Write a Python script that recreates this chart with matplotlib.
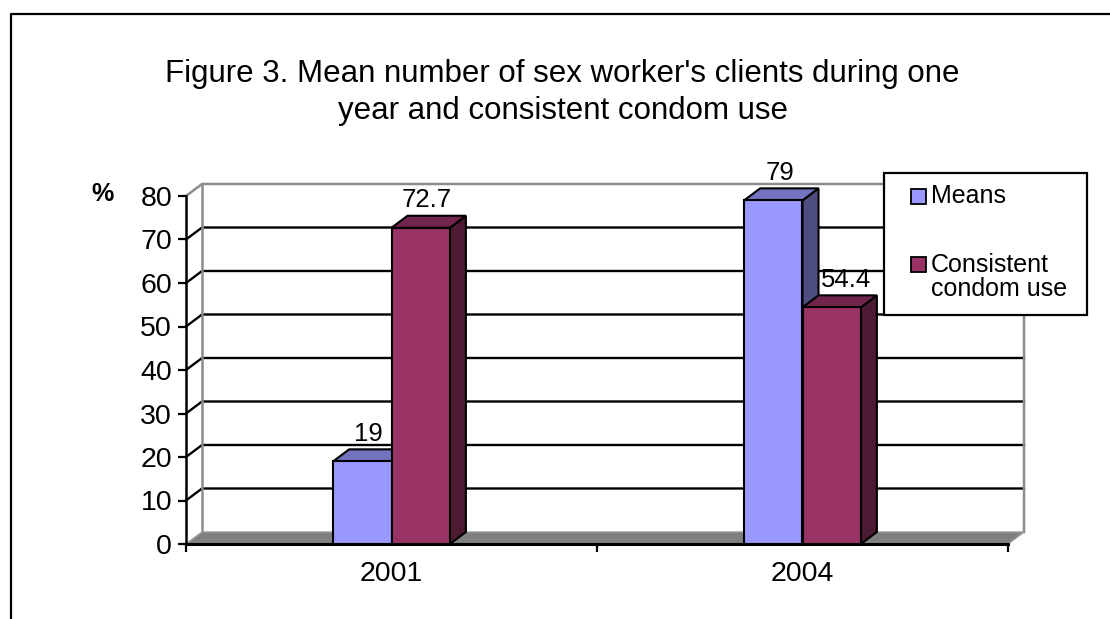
import matplotlib.pyplot as plt
import matplotlib.transforms as mtransforms
from matplotlib.patches import Polygon, Rectangle

plt.rcParams['font.family'] = ['Liberation Sans', 'DejaVu Sans']

years = ['2001', '2004']
means = [19, 79]
condom_use = [72.7, 54.4]
value_labels_means = ['19', '79']
value_labels_condom = ['72.7', '54.4']
yticks = list(range(0, 90, 10))

series = [
    ('Means', means, value_labels_means, ('#9999FF', '#7373BF', '#4D4D80')),
    ('Consistent\ncondom use', condom_use, value_labels_condom, ('#993366', '#73264D', '#4D1A33')),
]
# extra sideways nudge (points) for labels that would sit on a neighbouring bar
label_nudge = {(1, 1): 6}

W, H = 1110, 619
fig = plt.figure(figsize=(W / 100, H / 100), dpi=100)
# pixel coords measured from the top-left corner of the figure
px = mtransforms.Affine2D().scale(1 / W, -1 / H).translate(0, 1) + fig.transFigure

ax = fig.add_axes([186 / W, (H - 544) / H, 822 / W, 348 / H])
ax.set_xlim(-0.5, 1.5)
ax.set_ylim(0, 80)
ax.patch.set_visible(False)

# depth of the 3d box in data units
DX = 0.039
DY = 2.76
bar_w = 0.142

# back wall: gridlines, side-wall diagonals and grey edges
x0, x1 = -0.5, 1.5
for v in yticks[1:-1]:
    ax.plot([x0, x0 + DX, x1 + DX], [v, v + DY, v + DY], color='black', lw=1.7,
            clip_on=False, zorder=1, solid_joinstyle='miter')
ax.plot([x0, x0 + DX, x1 + DX, x1 + DX], [80, 80 + DY, 80 + DY, DY],
        color='#8c8c8c', lw=1.8, clip_on=False, zorder=1)
ax.plot([x0 + DX, x0 + DX], [DY, 80 + DY], color='#8c8c8c', lw=1.8,
        clip_on=False, zorder=1)

# floor
floor = Polygon([(x0, 0), (x1, 0), (x1 + DX, DY), (x0 + DX, DY)], closed=True,
                facecolor='#808080', edgecolor='#999999', lw=1.0,
                clip_on=False, zorder=1.5)
ax.add_patch(floor)

# 3d bars
for i, year in enumerate(years):
    for j, (name, vals, labels, (front, top, side)) in enumerate(series):
        left = i - bar_w + j * bar_w
        v = vals[i]
        kw = dict(edgecolor='black', lw=1.5, clip_on=False, joinstyle='miter')
        ax.add_patch(Polygon([(left + bar_w, 0), (left + bar_w + DX, DY),
                              (left + bar_w + DX, v + DY), (left + bar_w, v)],
                             facecolor=side, zorder=3 + j, **kw))
        ax.add_patch(Polygon([(left, v), (left + bar_w, v),
                              (left + bar_w + DX, v + DY), (left + DX, v + DY)],
                             facecolor=top, zorder=3 + j, **kw))
        ax.add_patch(Rectangle((left, 0), bar_w, v, facecolor=front,
                               zorder=3 + j, **kw))
        ax.annotate(labels[i], (left + bar_w / 2 + DX * 0.4, v + DY),
                    xytext=(label_nudge.get((i, j), 0), 11),
                    textcoords='offset points', annotation_clip=False,
                    ha='center', va='center', fontsize=18.5, zorder=6)

# axes
for s in ['top', 'right']:
    ax.spines[s].set_visible(False)
ax.spines['left'].set_linewidth(1.8)
ax.spines['bottom'].set_linewidth(2.2)
ax.spines['left'].set_zorder(2.5)
ax.spines['bottom'].set_zorder(2.5)
ax.set_yticks(yticks)
ax.tick_params(axis='y', direction='out', length=6, width=1.6, pad=4, labelsize=20.5)
ax.set_xticks([-0.5, 0.5, 1.5])
ax.set_xticklabels([])
ax.set_xticks([0, 1], minor=True)
ax.set_xticklabels(years, minor=True)
ax.tick_params(axis='x', which='major', direction='out', length=6, width=1.6)
ax.tick_params(axis='x', which='minor', length=0, pad=12, labelsize=20.5)

# outer chart frame
fig.add_artist(plt.Line2D([11, 11, W + 5], [H + 5, 14, 14], transform=px,
                          color='black', lw=1.6))

fig.text(562, 82, "Figure 3. Mean number of sex worker's clients during one",
         transform=px, ha='center', va='baseline', fontsize=22.5)
fig.text(788, 119, "year and consistent condom use",
         transform=px, ha='right', va='baseline', fontsize=22.5)
fig.text(103, 194, '%', transform=px, ha='center', va='center',
         fontsize=18, fontweight='bold')

# legend box
fig.add_artist(Rectangle((884, 173), 203, 142, transform=px, facecolor='white',
                         edgecolor='black', lw=1.6, zorder=7))
for (name, vals, labels, (front, top, side)), ym, yt in zip(series, [196, 264], [196, 277]):
    fig.add_artist(Rectangle((911, ym - 7), 15, 15, transform=px, facecolor=front,
                             edgecolor='black', lw=1.3, zorder=8))
    fig.text(931, yt, name, transform=px, ha='left', va='center', fontsize=18,
             linespacing=1.0, zorder=8)

fig.savefig('out.png', dpi=100)
